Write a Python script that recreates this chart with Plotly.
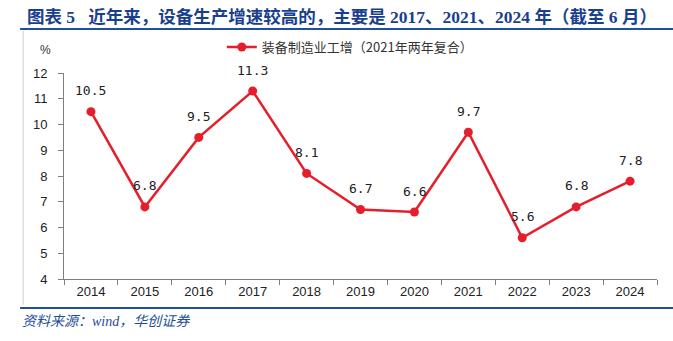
import plotly.graph_objects as go

years = ["2014", "2015", "2016", "2017", "2018", "2019", "2020", "2021", "2022", "2023", "2024"]
values = [10.5, 6.8, 9.5, 11.3, 8.1, 6.7, 6.6, 9.7, 5.6, 6.8, 7.8]
series_name = "装备制造业工增（2021年两年复合）"
title_text = "图表 5&nbsp;&nbsp;&nbsp;近年来，设备生产增速较高的，主要是 2017、2021、2024 年（截至 6 月）"
source_text = "资料来源：wind，华创证券"
y_ticks = [4, 5, 6, 7, 8, 9, 10, 11, 12]

RED = "#e61e2b"
BLUE = "#1f4e9a"

fig = go.Figure()
fig.add_trace(go.Scatter(
    x=years, y=values, mode="lines+markers", name=series_name,
    line=dict(color=RED, width=2.5),
    marker=dict(color=RED, size=9),
))

annotations = []
for i, v in enumerate(values):
    annotations.append(dict(
        x=i, y=v, xref="x", yref="y", text=f"{v:.1f}", showarrow=False,
        yshift=21, font=dict(family="DejaVu Sans Mono", size=13, color="#222222"),
    ))

annotations.append(dict(x=-0.044, y=1.11, xref="paper", yref="paper", text="%",
                        yanchor="middle", showarrow=False,
                        font=dict(family="Liberation Sans", size=12, color="#333333")))
annotations.append(dict(x=-0.074, y=-0.205, xref="paper", yref="paper", text=source_text,
                        xanchor="left", yanchor="middle", showarrow=False,
                        font=dict(family="Liberation Serif, Noto Sans CJK SC", size=14, color=BLUE, style="italic")))

shapes = [
    dict(type="line", xref="paper", yref="paper", x0=-0.074, x1=1.03, y0=1.213, y1=1.213,
         line=dict(color=BLUE, width=2)),
    dict(type="line", xref="paper", yref="paper", x0=-0.074, x1=1.03, y0=-0.141, y1=-0.141,
         line=dict(color=BLUE, width=2)),
    dict(type="line", xref="paper", yref="paper", x0=-0.069, x1=-0.069, y0=-0.126, y1=1.205,
         line=dict(color="#cccccc", width=1)),
]

fig.update_layout(
    width=673, height=341,
    margin=dict(l=64, r=16, t=73, b=62),
    paper_bgcolor="white", plot_bgcolor="white",
    title=dict(text=title_text, x=0.04, xanchor="left", y=0.95, yanchor="middle", xref="container", yref="container",
               font=dict(family="Liberation Serif, Noto Sans CJK SC", size=17.5, color="#1a3f8f", weight="bold")),
    showlegend=True,
    legend=dict(orientation="h", x=0.482, xanchor="center", y=1.126, yanchor="middle",
                font=dict(family="Noto Sans CJK SC", size=13, color="#333333"),
                bgcolor="rgba(0,0,0,0)"),
    xaxis=dict(type="category", range=[-0.5, 10.5], showgrid=False, showline=True,
               linecolor="#7f7f7f", linewidth=1, ticks="outside", tickson="boundaries",
               ticklen=5, tickcolor="#7f7f7f",
               tickfont=dict(family="Liberation Sans", size=13, color="#222222")),
    yaxis=dict(range=[4, 12], tickvals=y_ticks, showgrid=False, showline=True, zeroline=False,
               linecolor="#7f7f7f", linewidth=1, ticks="outside", ticklen=5, tickcolor="#7f7f7f",
               ticklabelstandoff=8,
               tickfont=dict(family="Liberation Sans", size=13, color="#222222")),
    annotations=annotations,
    shapes=shapes,
)

fig.write_html("out.html")
